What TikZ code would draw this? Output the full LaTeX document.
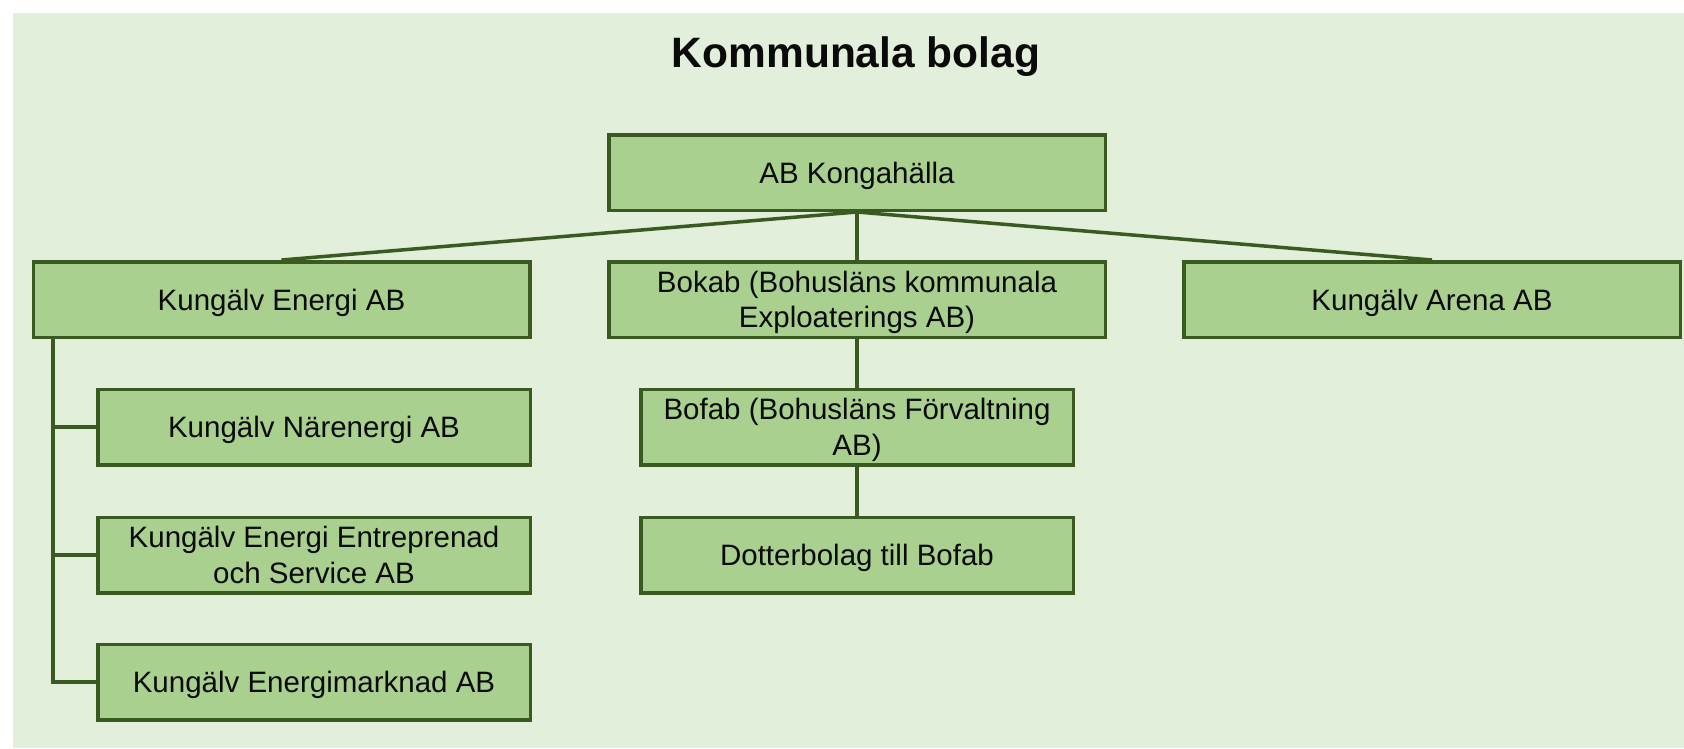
\documentclass[tikz,border=0pt]{standalone}
\usepackage{fontspec}
\setmainfont{Liberation Sans}
\definecolor{bgc}{HTML}{E2EFDA}
\definecolor{boxfill}{HTML}{A9D08E}
\definecolor{boxline}{HTML}{3A5A22}
\definecolor{txt}{HTML}{0A0A0A}
\newcommand\lbl[1]{\raisebox{0pt}[\height][\dimexpr\depth-7pt\relax]{\begin{tabular}{@{}c@{}}#1\end{tabular}}}
\tikzset{
  orgbox/.style={draw=boxline, fill=boxfill, line width=3.5pt, rectangle,
    minimum height=75.5pt, inner sep=0pt, text=txt,
    font=\fontsize{29.5}{35.5}\selectfont},
  wide/.style={orgbox, minimum width=496.5pt},
  narrow/.style={orgbox, minimum width=432.5pt},
  link/.style={draw=boxline, line width=3.5pt}
}
\begin{document}
\begin{tikzpicture}[x=1pt,y=-1pt]
\useasboundingbox (0,0) rectangle (1684,748);
\fill[bgc] (13,13) rectangle (1684,748);
\node[anchor=base, font=\fontsize{42.5}{50}\selectfont\bfseries, text=txt] (title) at (856,67) {Kommunala bolag};

\node[wide] (kong) at (857,172.5) {\lbl{AB Kongahälla}};
\node[wide] (energi) at (281.5,299.5) {\lbl{Kungälv Energi AB}};
\node[wide] (bokab) at (857,299.5) {\lbl{Bokab (Bohusläns kommunala\\Exploaterings AB)}};
\node[wide] (arena) at (1432,299.5) {\lbl{Kungälv Arena AB}};

\node[narrow] (naer) at (314,427) {\lbl{Kungälv Närenergi AB}};
\node[narrow] (entr) at (314,555) {\lbl{Kungälv Energi Entreprenad\\och Service AB}};
\node[narrow] (mark) at (314,682) {\lbl{Kungälv Energimarknad AB}};

\node[narrow] (bofab) at (857,427) {\lbl{Bofab (Bohusläns Förvaltning\\AB)}};
\node[narrow] (dotter) at (857,555) {\lbl{Dotterbolag till Bofab}};

\draw[link] (kong.south) -- (energi.north);
\draw[link] (kong.south) -- (bokab.north);
\draw[link] (kong.south) -- (arena.north);
\draw[link] (bokab.south) -- (bofab.north);
\draw[link] (bofab.south) -- (dotter.north);

\coordinate (trunk) at ([xshift=21.5pt]energi.south west);
\draw[link] (trunk) |- (mark.west);
\draw[link] (trunk) |- (naer.west);
\draw[link] (trunk) |- (entr.west);
\end{tikzpicture}
\end{document}
